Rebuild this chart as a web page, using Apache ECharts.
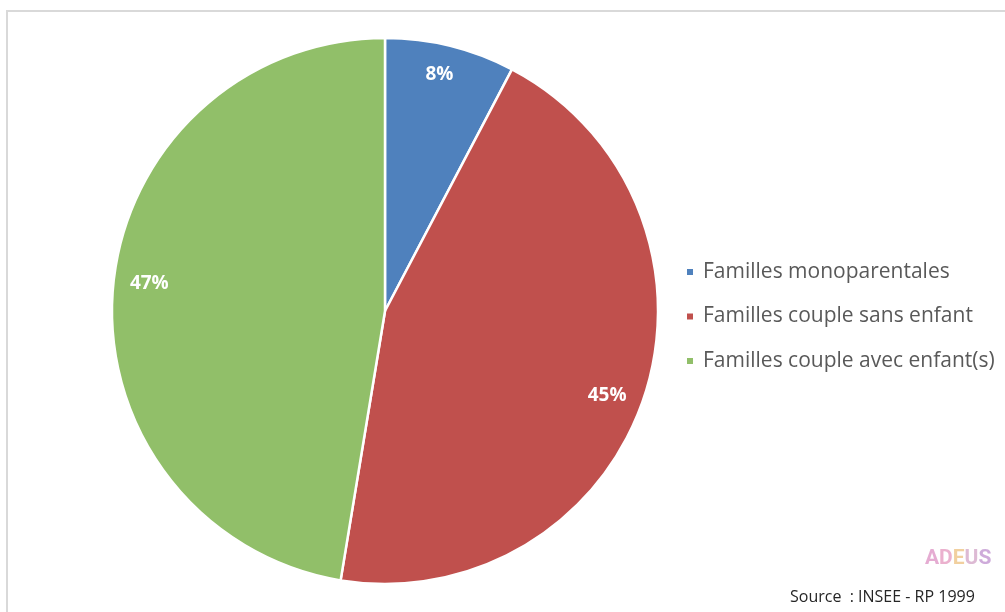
<!DOCTYPE html>
<html><head><meta charset="utf-8">
<script src="https://cdn.jsdelivr.net/npm/echarts@6/dist/echarts.min.js"></script>
<style>html,body{margin:0;padding:0;background:#fff}#c{width:1005px;height:612px}</style>
</head><body><div id="c"></div>
<script>
var categories = ['Familles monoparentales', 'Familles couple sans enfant', 'Familles couple avec enfant(s)'];
var values = [7.7, 44.9, 47.4];
var colors = ['#4f81bd', '#c0504d', '#91bf69'];
var sourceText = 'Source  : INSEE - RP 1999';
var logoLetters = ['A', 'D', 'E', 'U', 'S'];

var data = categories.map(function (n, i) { return { name: n, value: values[i] }; });
var labelNudge = [[-3, -4], [-5, 8], [3, -8]];
var labelData = categories.map(function (n, i) {
  return { name: n, value: values[i], label: { offset: labelNudge[i] } };
});
var logoColors = ['#e2a3cd', '#e9a9c9', '#f0cb95', '#d9b3cf', '#c9a2d6'];
var logoRich = {};
logoLetters.forEach(function (l, i) {
  logoRich['l' + i] = { fontSize: 21, fontWeight: 'bold', fontFamily: 'Roboto', fill: logoColors[i] };
});
var logoStr = logoLetters.map(function (l, i) { return '{l' + i + '|' + l + '}'; }).join('');

var chart = echarts.init(document.getElementById('c'));
chart.setOption({
  animation: false,
  color: colors,
  legend: {
    orient: 'vertical', left: 680, top: 256, itemWidth: 8, itemHeight: 8, itemGap: 22.5,
    icon: 'rect',
    textStyle: { color: '#595959', fontSize: 21, lineHeight: 22, fontFamily: 'Open Sans', padding: [0, 0, 0, 4] },
    data: categories
  },
  graphic: [
    { type: 'rect', shape: { x: 7, y: 11, width: 1010, height: 620 }, style: { fill: 'none', stroke: '#d9d9d9', lineWidth: 2 }, silent: true },
    { type: 'text', left: 925, top: 548, style: { text: logoStr, rich: logoRich, opacity: 0.9 } },
    { type: 'text', left: 790, top: 589, style: { text: sourceText, fontSize: 16, fontFamily: 'Open Sans', fill: '#262626' } }
  ],
  series: [
    {
      type: 'pie', center: [385, 311], radius: [0, 273], startAngle: 90, clockwise: true,
      data: data, label: { show: false }, labelLine: { show: false },
      itemStyle: { borderColor: '#fff', borderWidth: 2.5 }, silent: true
    },
    {
      type: 'pie', center: [385, 311], radius: [200, 273], startAngle: 90, clockwise: true,
      data: labelData, silent: true, legendHoverLink: false,
      itemStyle: { color: 'rgba(0,0,0,0)', borderWidth: 0 },
      labelLine: { show: false },
      label: { show: true, position: 'inside', color: '#fff', fontSize: 19, fontWeight: 'bold', fontFamily: 'Open Sans',
        formatter: function (p) { return Math.round(p.value) + '%'; } }
    }
  ]
});
</script></body></html>
